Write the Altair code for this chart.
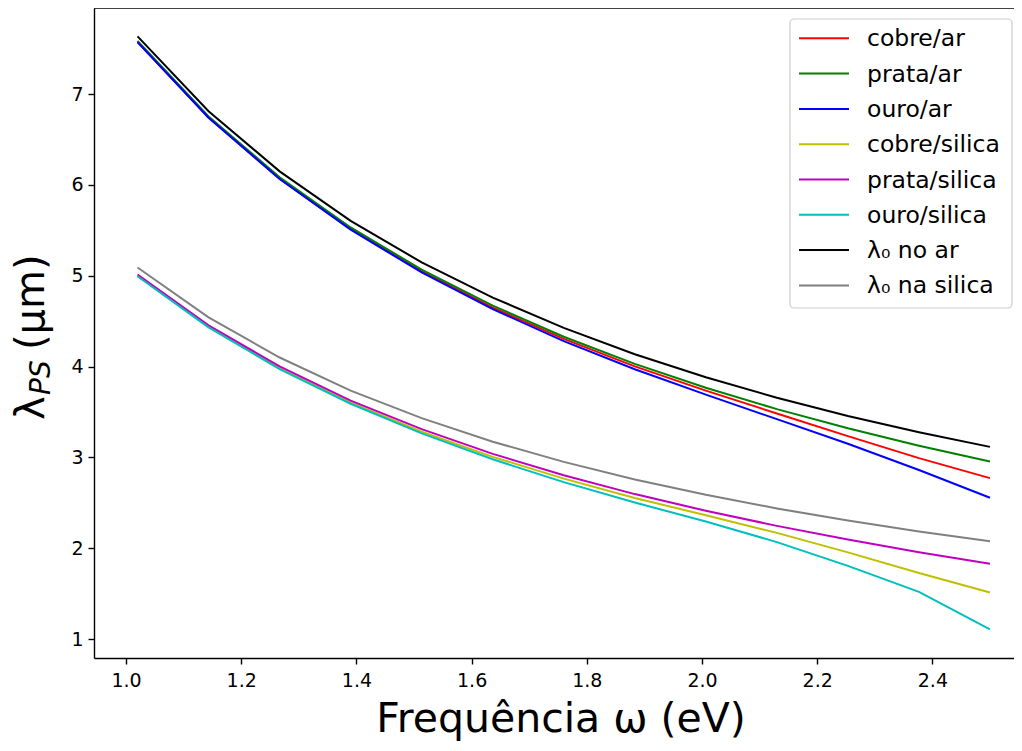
import altair as alt
import pandas as pd

# photon energy (eV)
omega = [1.02, 1.1433, 1.2667, 1.39, 1.5133, 1.6367, 1.76, 1.8833, 2.0067, 2.13, 2.2533, 2.3767, 2.5]

cobre_ar = [7.575, 6.743, 6.070, 5.516, 5.050, 4.650, 4.305, 4.003, 3.735, 3.484, 3.234, 2.992, 2.772]
prata_ar = [7.586, 6.755, 6.085, 5.532, 5.068, 4.671, 4.329, 4.030, 3.767, 3.532, 3.321, 3.129, 2.955]
ouro_ar = [7.573, 6.741, 6.066, 5.508, 5.037, 4.633, 4.281, 3.971, 3.692, 3.421, 3.151, 2.861, 2.556]
cobre_si = [4.998, 4.437, 3.980, 3.602, 3.283, 3.006, 2.766, 2.553, 2.363, 2.169, 1.954, 1.727, 1.512]
prata_si = [5.014, 4.455, 4.002, 3.626, 3.311, 3.039, 2.804, 2.596, 2.412, 2.246, 2.095, 1.955, 1.829]
ouro_si = [4.995, 4.432, 3.973, 3.591, 3.264, 2.979, 2.728, 2.503, 2.294, 2.067, 1.805, 1.520, 1.107]
lam0_ar = [7.637, 6.813, 6.150, 5.604, 5.148, 4.760, 4.426, 4.136, 3.882, 3.657, 3.457, 3.278, 3.116]
lam0_si = [5.091, 4.542, 4.100, 3.736, 3.432, 3.173, 2.951, 2.757, 2.588, 2.438, 2.305, 2.185, 2.077]

names = ["cobre/ar", "prata/ar", "ouro/ar", "cobre/silica", "prata/silica",
         "ouro/silica", "λ₀ no ar", "λ₀ na silica"]
colors = ["#ff0000", "#008000", "#0000ff", "#bfbf00", "#bf00bf", "#00bfbf", "#000000", "#808080"]
series = [cobre_ar, prata_ar, ouro_ar, cobre_si, prata_si, ouro_si, lam0_ar, lam0_si]

x_ticks = [1.0, 1.2, 1.4, 1.6, 1.8, 2.0, 2.2, 2.4]
y_ticks = [1, 2, 3, 4, 5, 6, 7]

rows = []
for name, vals in zip(names, series):
    for w, v in zip(omega, vals):
        rows.append({"omega": w, "lam": v, "serie": name})
df = pd.DataFrame(rows)

FONT = "DejaVu Sans"
W, H = 920, 650

lines = alt.Chart(df).mark_line(strokeWidth=2, clip=True).encode(
    x=alt.X("omega:Q",
            scale=alt.Scale(domain=[0.9444, 2.5417], nice=False, zero=False),
            axis=alt.Axis(values=x_ticks, format=".1f", title=None, labelPadding=7)),
    y=alt.Y("lam:Q",
            scale=alt.Scale(domain=[0.791, 7.949], nice=False, zero=False),
            axis=alt.Axis(values=y_ticks, format="d", title=None, labelPadding=5)),
    color=alt.Color("serie:N", scale=alt.Scale(domain=names, range=colors), legend=None),
)

one = pd.DataFrame({"a": [0]})
layers = [lines]

# top spine
layers.append(alt.Chart(one).mark_rule(color="black", strokeWidth=1.4).encode(
    x=alt.value(0), x2=alt.value(W), y=alt.value(0)))

# legend box
layers.append(alt.Chart(one).mark_rect(fill="white", fillOpacity=0.8, stroke="#cccccc",
                                       strokeWidth=1.2, cornerRadius=4).encode(
    x=alt.value(696), x2=alt.value(918), y=alt.value(11), y2=alt.value(300)))

for i, (name, col) in enumerate(zip(names, colors)):
    yy = 30.3 + i * 35.3
    layers.append(alt.Chart(one).mark_rule(color=col, strokeWidth=2).encode(
        x=alt.value(705), x2=alt.value(755), y=alt.value(yy)))
    layers.append(alt.Chart(one).mark_text(text=name, align="left", baseline="middle",
                                           fontSize=23.5, font=FONT, color="black").encode(
        x=alt.value(773), y=alt.value(yy + 1)))

# x title
layers.append(alt.Chart(one).mark_text(text="Frequência ω (eV)", align="center",
                                       baseline="alphabetic", fontSize=41, font=FONT,
                                       color="black").encode(
    x=alt.value(467), y=alt.value(724)))

# y title: λ_PS (μm)
layers.append(alt.Chart(one).mark_text(text="λ", angle=270, align="left", baseline="middle",
                                       fontSize=40, font=FONT, color="black").encode(
    x=alt.value(-62), y=alt.value(412)))
layers.append(alt.Chart(one).mark_text(text="PS", angle=270, align="left", baseline="middle",
                                       fontSize=28, font=FONT, fontStyle="italic",
                                       color="black").encode(
    x=alt.value(-52), y=alt.value(387)))
layers.append(alt.Chart(one).mark_text(text="(μm)", angle=270, align="left", baseline="middle",
                                       fontSize=40, font=FONT, color="black").encode(
    x=alt.value(-62), y=alt.value(342)))

chart = alt.layer(*layers).properties(
    width=W, height=H,
    padding={"left": 86, "top": 0, "right": 0, "bottom": 85},
    autosize=alt.AutoSizeParams(type="none"),
).configure_view(stroke=None).configure_axis(
    grid=False,
    domainColor="black", domainWidth=1.4,
    tickColor="black", tickWidth=1.4, tickSize=6,
    labelColor="black", labelFont=FONT, labelFontSize=19,
)

chart.save("out.html", embed_options={"renderer": "svg", "actions": False})
